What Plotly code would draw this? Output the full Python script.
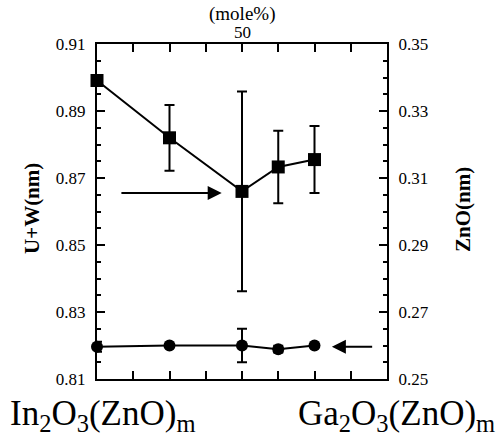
import plotly.graph_objects as go

mole = [0, 25, 50, 62.5, 75]
uw = [0.8991, 0.8820, 0.8660, 0.8733, 0.8755]
uw_err = [0.0, 0.0098, 0.0298, 0.0108, 0.0100]
zno = [0.2596, 0.2600, 0.2600, 0.2589, 0.2600]
zno_err = [0.0015, 0.0, 0.0050, 0.0010, 0.0]

FONT = "Liberation Serif, Times New Roman, serif"
fig = go.Figure()
fig.add_trace(go.Scatter(
    x=mole, y=uw, mode="lines+markers",
    line=dict(color="black", width=2),
    marker=dict(symbol="square", size=13, color="black"),
    error_y=dict(type="data", array=uw_err, color="black", thickness=2, width=5),
    cliponaxis=False, yaxis="y", showlegend=False))
fig.add_trace(go.Scatter(
    x=mole, y=zno, mode="lines+markers",
    line=dict(color="black", width=2),
    marker=dict(symbol="circle", size=12, color="black"),
    error_y=dict(type="data", array=zno_err, color="black", thickness=2, width=5),
    cliponaxis=False, yaxis="y2", showlegend=False))

axis_common = dict(showline=True, linecolor="black", linewidth=2, ticks="inside",
                   tickcolor="black", tickwidth=2, ticklen=8, showgrid=False,
                   zeroline=False, ticklabelstandoff=6,
                   tickfont=dict(family=FONT, size=17, color="black"))

fig.update_layout(
    width=501, height=438,
    margin=dict(l=97, r=114, t=44, b=59),
    paper_bgcolor="white", plot_bgcolor="white",
    font=dict(family=FONT, color="black"),
    xaxis=dict(range=[0, 100], tick0=0, dtick=25, showticklabels=False, mirror="allticks",
               minor=dict(tick0=0, dtick=12.5, ticks="inside", ticklen=4, tickwidth=1.5, tickcolor="black"),
               **axis_common),
    yaxis=dict(range=[0.81, 0.91], tick0=0.81, dtick=0.02, tickformat=".2f",
               minor=dict(tick0=0.81, dtick=0.005, ticks="inside", ticklen=4, tickwidth=1.5, tickcolor="black"),
               **axis_common),
    yaxis2=dict(range=[0.25, 0.35], tick0=0.25, dtick=0.02, tickformat=".2f", overlaying="y", side="right",
                minor=dict(tick0=0.25, dtick=0.005, ticks="inside", ticklen=4, tickwidth=1.5, tickcolor="black"),
                **axis_common),
)

W, H = 501, 438
l, r, t, b = 97, 114, 44, 59
pw, ph = W - l - r, H - t - b
def px(x):
    return (x - l) / pw
def py(y):
    return (H - b - y) / ph

ann = [
    dict(x=43, y=0.8655, ax=7.9, ay=0.8655, xref="x", yref="y", axref="x", ayref="y",
         showarrow=True, arrowhead=2, arrowsize=1.4, arrowwidth=2, arrowcolor="black", text=""),
    dict(x=81, y=0.2596, ax=95.4, ay=0.2596, xref="x", yref="y2", axref="x", ayref="y2",
         showarrow=True, arrowhead=2, arrowsize=1.4, arrowwidth=2, arrowcolor="black", text=""),
    dict(x=50, y=1, xref="x", yref="paper", xanchor="center", yanchor="bottom", yshift=0, showarrow=False,
         text="50", font=dict(family=FONT, size=17, color="black")),
    dict(x=50, y=1, xref="x", yref="paper", xanchor="center", yanchor="bottom", yshift=17, showarrow=False,
         text="(mole%)", font=dict(family=FONT, size=19, color="black")),
    dict(x=px(32), y=py(209), xref="paper", yref="paper", xanchor="center", yanchor="middle",
         showarrow=False, textangle=-90,
         text="<b>U+W(nm)</b>", font=dict(family=FONT, size=21, color="black")),
    dict(x=px(463), y=py(210), xref="paper", yref="paper", xanchor="center", yanchor="middle",
         showarrow=False, textangle=-90,
         text="<b>ZnO(nm)</b>", font=dict(family=FONT, size=21, color="black")),
    dict(x=px(8), y=py(415), xref="paper", yref="paper", xanchor="left", yanchor="middle", showarrow=False,
         text="In<sub>2</sub>O<sub>3</sub>(ZnO)<sub>m</sub>", font=dict(family=FONT, size=35, color="black")),
    dict(x=px(497), y=py(415), xref="paper", yref="paper", xanchor="right", yanchor="middle", showarrow=False,
         text="Ga<sub>2</sub>O<sub>3</sub>(ZnO)<sub>m</sub>", font=dict(family=FONT, size=35, color="black")),
]
fig.update_layout(annotations=ann)
fig.write_html("out.html")
